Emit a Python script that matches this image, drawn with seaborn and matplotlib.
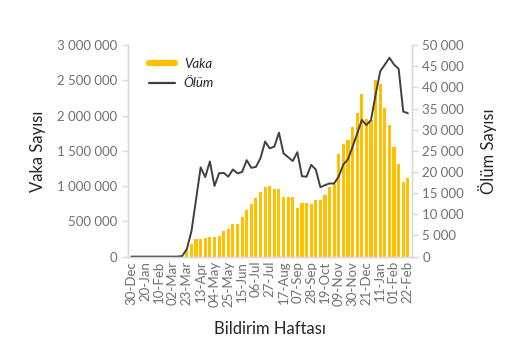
import numpy as np
import pandas as pd
import matplotlib
matplotlib.use("Agg")
import matplotlib.pyplot as plt
from matplotlib.lines import Line2D
from matplotlib.ticker import FuncFormatter
import seaborn as sns

# weekly data, 30-Dec-2019 .. 22-Feb-2021
weeks = pd.date_range("2019-12-30", periods=61, freq="7D")

vaka = [0, 0, 0, 0, 0, 0, 0, 0, 0, 0, 0, 0,
        100000, 185000, 248000, 245000, 266000, 280000, 285000, 295000,
        363000, 388000, 463000, 467000, 555000, 655000, 750000, 826000,
        910000, 992000, 1002000, 955000, 955000, 852000, 840000, 849000,
        693000, 755000, 755000, 747000, 797000, 797000, 873000, 981000,
        1028000, 1450000, 1596000, 1652000, 1833000, 2040000, 2305000,
        1946000, 1935000, 2502000, 2455000, 2115000, 1865000, 1558000,
        1313000, 1053000, 1119000]

olum = [0, 0, 0, 0, 0, 0, 0, 0, 0, 0, 0, 150,
        1800, 6000, 13500, 21100, 18800, 22500, 16700, 19700,
        19800, 18900, 20600, 19700, 20000, 22800, 21000, 21200,
        23300, 27200, 25600, 26000, 29300, 24400, 23500, 22600,
        24700, 19000, 18900, 21700, 20600, 16400, 16900, 17300,
        17300, 19000, 21800, 23000, 26000, 29100, 32300,
        31100, 32300, 38300, 43800, 45400, 47000, 45400,
        44400, 34300, 33900]

tick_labels = ["30-Dec", "20-Jan", "10-Feb", "02-Mar", "23-Mar", "13-Apr",
               "04-May", "25-May", "15-Jun", "06-Jul", "27-Jul", "17-Aug",
               "07-Sep", "28-Sep", "19-Oct", "09-Nov", "30-Nov", "21-Dec",
               "11-Jan", "01-Feb", "22-Feb"]

df = pd.DataFrame({"hafta": np.arange(len(weeks)), "vaka": vaka, "olum": olum})

sns.set_style("white")
plt.rcParams["font.family"] = ["Lato", "DejaVu Sans"]

BAR = "#FFC000"
LINE = "#404040"
GRID = "#d9d9d9"
TXT = "#6f6f78"

fig = plt.figure(figsize=(5.32, 3.64), dpi=100)
ax = fig.add_axes([0.240, 0.295, 0.534, 0.581])

sns.barplot(data=df, x="hafta", y="vaka", color=BAR, width=0.68,
            saturation=1, linewidth=0, ax=ax)
ax2 = ax.twinx()
sns.lineplot(data=df, x="hafta", y="olum", color=LINE, linewidth=1.4, ax=ax2)

ax.set_xlim(-0.85, 60.85)
ax.set_ylim(0, 3000000)
ax2.set_ylim(0, 50000)
ax.set_yticks(np.arange(0, 3000001, 500000))
ax2.set_yticks(np.arange(0, 50001, 5000))

fmt = FuncFormatter(lambda v, p: f"{int(v):,}".replace(",", " "))
ax.yaxis.set_major_formatter(fmt)
ax2.yaxis.set_major_formatter(fmt)

ax.set_xticks(np.arange(0, 61, 3))
ax.set_xticklabels(tick_labels, rotation=90)

for a in (ax, ax2):
    for s in a.spines.values():
        s.set_color(GRID)
        s.set_linewidth(1)
    a.spines["top"].set_visible(False)
    a.tick_params(axis="y", colors=GRID, labelcolor=TXT, labelsize=9.5,
                  length=4, width=1, direction="out")
ax.tick_params(axis="x", length=0, labelcolor=TXT, labelsize=9.5, pad=3)

ax.set_xlabel("Bildirim Haftası", fontsize=12, labelpad=10)
ax.set_ylabel("Vaka Sayısı", fontsize=12, labelpad=8)
ax2.set_ylabel("Ölüm Sayısı", fontsize=12, labelpad=10)

handles = [Line2D([0], [0], color=BAR, linewidth=4.5),
           Line2D([0], [0], color=LINE, linewidth=1.6)]
leg = ax2.legend(handles, ["Vaka", "Ölüm"], loc="upper left",
                 bbox_to_anchor=(0.035, 0.995), frameon=False,
                 handlelength=1.9, handletextpad=0.7, labelspacing=0.55,
                 prop={"style": "italic", "size": 9.5})

fig.savefig("out.png", dpi=100)
